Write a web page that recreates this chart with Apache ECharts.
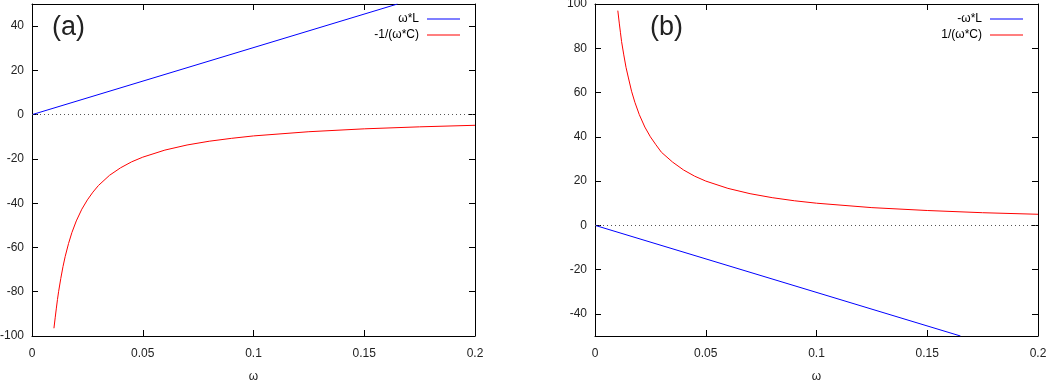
<!DOCTYPE html>
<html>
<head>
<meta charset="utf-8">
<script src="https://cdn.jsdelivr.net/npm/echarts@6/dist/echarts.min.js"></script>
<style>
  html, body { margin: 0; padding: 0; background: #fff; }
  #main { width: 1050px; height: 381px; }
</style>
</head>
<body>
<div id="main"></div>
<script>
// values
const xTicks = [0, 0.05, 0.1, 0.15, 0.2]
const yTicksA = [-100, -80, -60, -40, -20, 0, 20, 40]
const yTicksB = [-40, -20, 0, 20, 40, 60, 80, 100]

// panel (a)
const lineA_x = [0, 0.165]
const lineA_y = [0, 50]
const capA_x = [0.0099, 0.0105, 0.011, 0.0115, 0.012, 0.013, 0.014, 0.015, 0.0165, 0.018, 0.02, 0.0225, 0.025, 0.0275, 0.03, 0.035, 0.04, 0.045, 0.05, 0.06, 0.07, 0.08, 0.09, 0.1, 0.125, 0.15, 0.175, 0.2]
const capA_y = [-96.5, -91.5, -87.4, -83.5, -80, -74, -68.6, -64, -58.2, -53.3, -48, -42.7, -38.5, -35, -32, -27.4, -24, -21.3, -19.2, -16, -13.7, -12, -10.7, -9.6, -7.7, -6.4, -5.5, -4.8]

// panel (b)
const lineB_x = [0, 0.165]
const lineB_y = [0, -50]
const capB_x = [0.0103, 0.011, 0.0115, 0.012, 0.013, 0.014, 0.015, 0.0165, 0.018, 0.02, 0.0225, 0.025, 0.0275, 0.03, 0.035, 0.04, 0.045, 0.05, 0.06, 0.07, 0.08, 0.09, 0.1, 0.125, 0.15, 0.175, 0.2]
const capB_y = [97, 91, 87, 83, 77, 71.4, 67, 60.6, 55.6, 50, 44.4, 40, 36.4, 33, 28.6, 25, 22.2, 20, 16.7, 14.3, 12.5, 11.1, 10, 8, 6.7, 5.7, 5]

const font = 'Liberation Sans, Arial, sans-serif'
const pair = (xs, ys) => xs.map((x, i) => [x, ys[i]])

function xAxes(gi) {
  return [
    {
      type: 'value', gridIndex: gi, min: 0, max: 0.2, interval: 0.05,
      name: 'ω', nameLocation: 'middle', nameGap: 35,
      nameTextStyle: { color: '#222', fontSize: 12, fontFamily: font },
      axisLine: { onZero: false, lineStyle: { color: '#000', width: 1 } },
      axisTick: { inside: true, length: 6, lineStyle: { color: '#000' } },
      axisLabel: { color: '#222', fontSize: 12, fontFamily: font, margin: 12,
        formatter: v => String(+v.toFixed(2)) },
      splitLine: { show: false }
    },
    {
      type: 'value', gridIndex: gi, position: 'top', min: 0, max: 0.2, interval: 0.05,
      axisLine: { onZero: false, lineStyle: { color: '#000', width: 1 } },
      axisTick: { inside: true, length: 6, lineStyle: { color: '#000' } },
      axisLabel: { show: false },
      splitLine: { show: false }
    }
  ]
}

function yAxes(gi, min, max, ticks) {
  return [
    {
      type: 'value', gridIndex: gi, min: min, max: max,
      axisLine: { show: true, onZero: false, lineStyle: { color: '#000', width: 1 } },
      axisTick: { show: true, inside: true, length: 6, lineStyle: { color: '#000' }, customValues: ticks },
      axisLabel: { color: '#222', fontSize: 12, fontFamily: font, margin: 8, customValues: ticks },
      splitLine: { show: false }
    },
    {
      type: 'value', gridIndex: gi, position: 'right', min: min, max: max,
      axisLine: { show: true, onZero: false, lineStyle: { color: '#000', width: 1 } },
      axisTick: { show: true, inside: true, length: 6, lineStyle: { color: '#000' }, customValues: ticks },
      axisLabel: { show: false },
      splitLine: { show: false }
    }
  ]
}

const zeroLine = {
  silent: true, symbol: 'none', label: { show: false },
  lineStyle: { type: [1, 3], color: '#555', width: 1 },
  data: [{ yAxis: 0 }]
}

function curve(name, xi, yi, data, color, withZero) {
  const s = {
    name: name, type: 'line', xAxisIndex: xi, yAxisIndex: yi,
    data: data, showSymbol: false, symbol: 'none', clip: true,
    lineStyle: { color: color, width: 1 }, itemStyle: { color: color },
    animation: false
  }
  if (withZero) s.markLine = zeroLine
  return s
}

function legend(names, right) {
  return {
    data: names, orient: 'vertical', right: right, top: 13, padding: 0, align: 'right',
    icon: 'rect', itemWidth: 33, itemHeight: 1, itemGap: 4,
    textStyle: { color: '#000', fontSize: 12, fontFamily: font, padding: [0, 3, 0, 0] },
    selectedMode: false
  }
}

const chart = echarts.init(document.getElementById('main'))
chart.setOption({
  animation: false,
  grid: [
    { left: 32, right: 575, top: 4, bottom: 45, outerBoundsMode: 'none' },
    { left: 595, right: 12, top: 4, bottom: 45, outerBoundsMode: 'none' }
  ],
  xAxis: [...xAxes(0), ...xAxes(1)],
  yAxis: [...yAxes(0, -100, 50, yTicksA), ...yAxes(1, -50, 100, yTicksB)],
  legend: [legend(['ω*L', '-1/(ω*C)'], 590), legend(['-ω*L', '1/(ω*C)'], 27)],
  graphic: [
    { type: 'text', left: 52, top: 14, style: { text: '(a)', fontSize: 27, fontFamily: font, fill: '#222' } },
    { type: 'text', left: 650, top: 14, style: { text: '(b)', fontSize: 27, fontFamily: font, fill: '#222' } }
  ],
  series: [
    curve('ω*L', 0, 0, pair(lineA_x, lineA_y), '#0000ff', true),
    curve('-1/(ω*C)', 0, 0, pair(capA_x, capA_y), '#ff0000', false),
    curve('-ω*L', 2, 2, pair(lineB_x, lineB_y), '#0000ff', true),
    curve('1/(ω*C)', 2, 2, pair(capB_x, capB_y), '#ff0000', false)
  ]
})
</script>
</body>
</html>
